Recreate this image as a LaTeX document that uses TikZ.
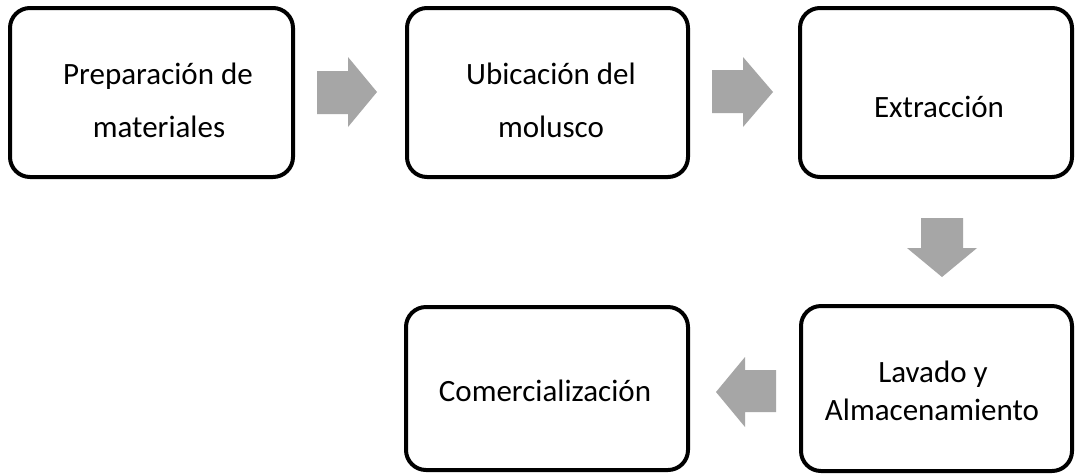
\documentclass[tikz,border=0pt]{standalone}
\usepackage{fontspec}
\setmainfont{Carlito}
\definecolor{arrowgray}{RGB}{166,166,166}
\begin{document}
\begin{tikzpicture}[x=1pt,y=-1pt,
  box/.style={draw=black, line width=4pt, rounded corners=20pt, anchor=north west, inner sep=0pt, outer sep=0pt},
  lbl/.style={anchor=base, inner sep=0pt, font=\fontsize{31}{37}\selectfont},
  blockarrow/.style={fill=arrowgray, draw=none}]
\useasboundingbox (0,0) rectangle (1075,475);
\fill[white] (0,0) rectangle (1075,475);
% boxes
\node[box, minimum width=283pt, minimum height=169pt] (b1) at (10,8) {};
\node[box, minimum width=281pt, minimum height=169pt] (b2) at (407,8) {};
\node[box, minimum width=272pt, minimum height=169pt] (b3) at (800,8) {};
\node[box, minimum width=271pt, minimum height=165pt] (b4) at (801,306) {};
\node[box, minimum width=282pt, minimum height=163pt] (b5) at (406,307) {};
% labels
\node[lbl] (t1a) at (158,84) {Preparación de};
\node[lbl] (t1b) at (159,137) {materiales};
\node[lbl] (t2a) at (551,84) {Ubicación del};
\node[lbl] (t2b) at (551,137) {molusco};
\node[lbl] (t3) at (939,117) {Extracción};
\node[lbl] (t4a) at (933,382) {Lavado y};
\node[lbl] (t4b) at (932,420) {Almacenamiento};
\node[lbl] (t5) at (545,401) {Comercialización};
% block arrows
\fill[blockarrow] (317,71) -- (348,71) -- (348,57) -- (377,92) -- (348,127) -- (348,114) -- (317,114) -- cycle;
\fill[blockarrow] (712,70) -- (743,70) -- (743,57) -- (773,92) -- (743,127) -- (743,113) -- (712,113) -- cycle;
\fill[blockarrow] (921,218) -- (963,218) -- (963,248) -- (977,248) -- (942,277) -- (907,248) -- (921,248) -- cycle;
\fill[blockarrow] (776,370) -- (745,370) -- (745,357) -- (716,392) -- (745,427) -- (745,412) -- (776,412) -- cycle;
\end{tikzpicture}
\end{document}
